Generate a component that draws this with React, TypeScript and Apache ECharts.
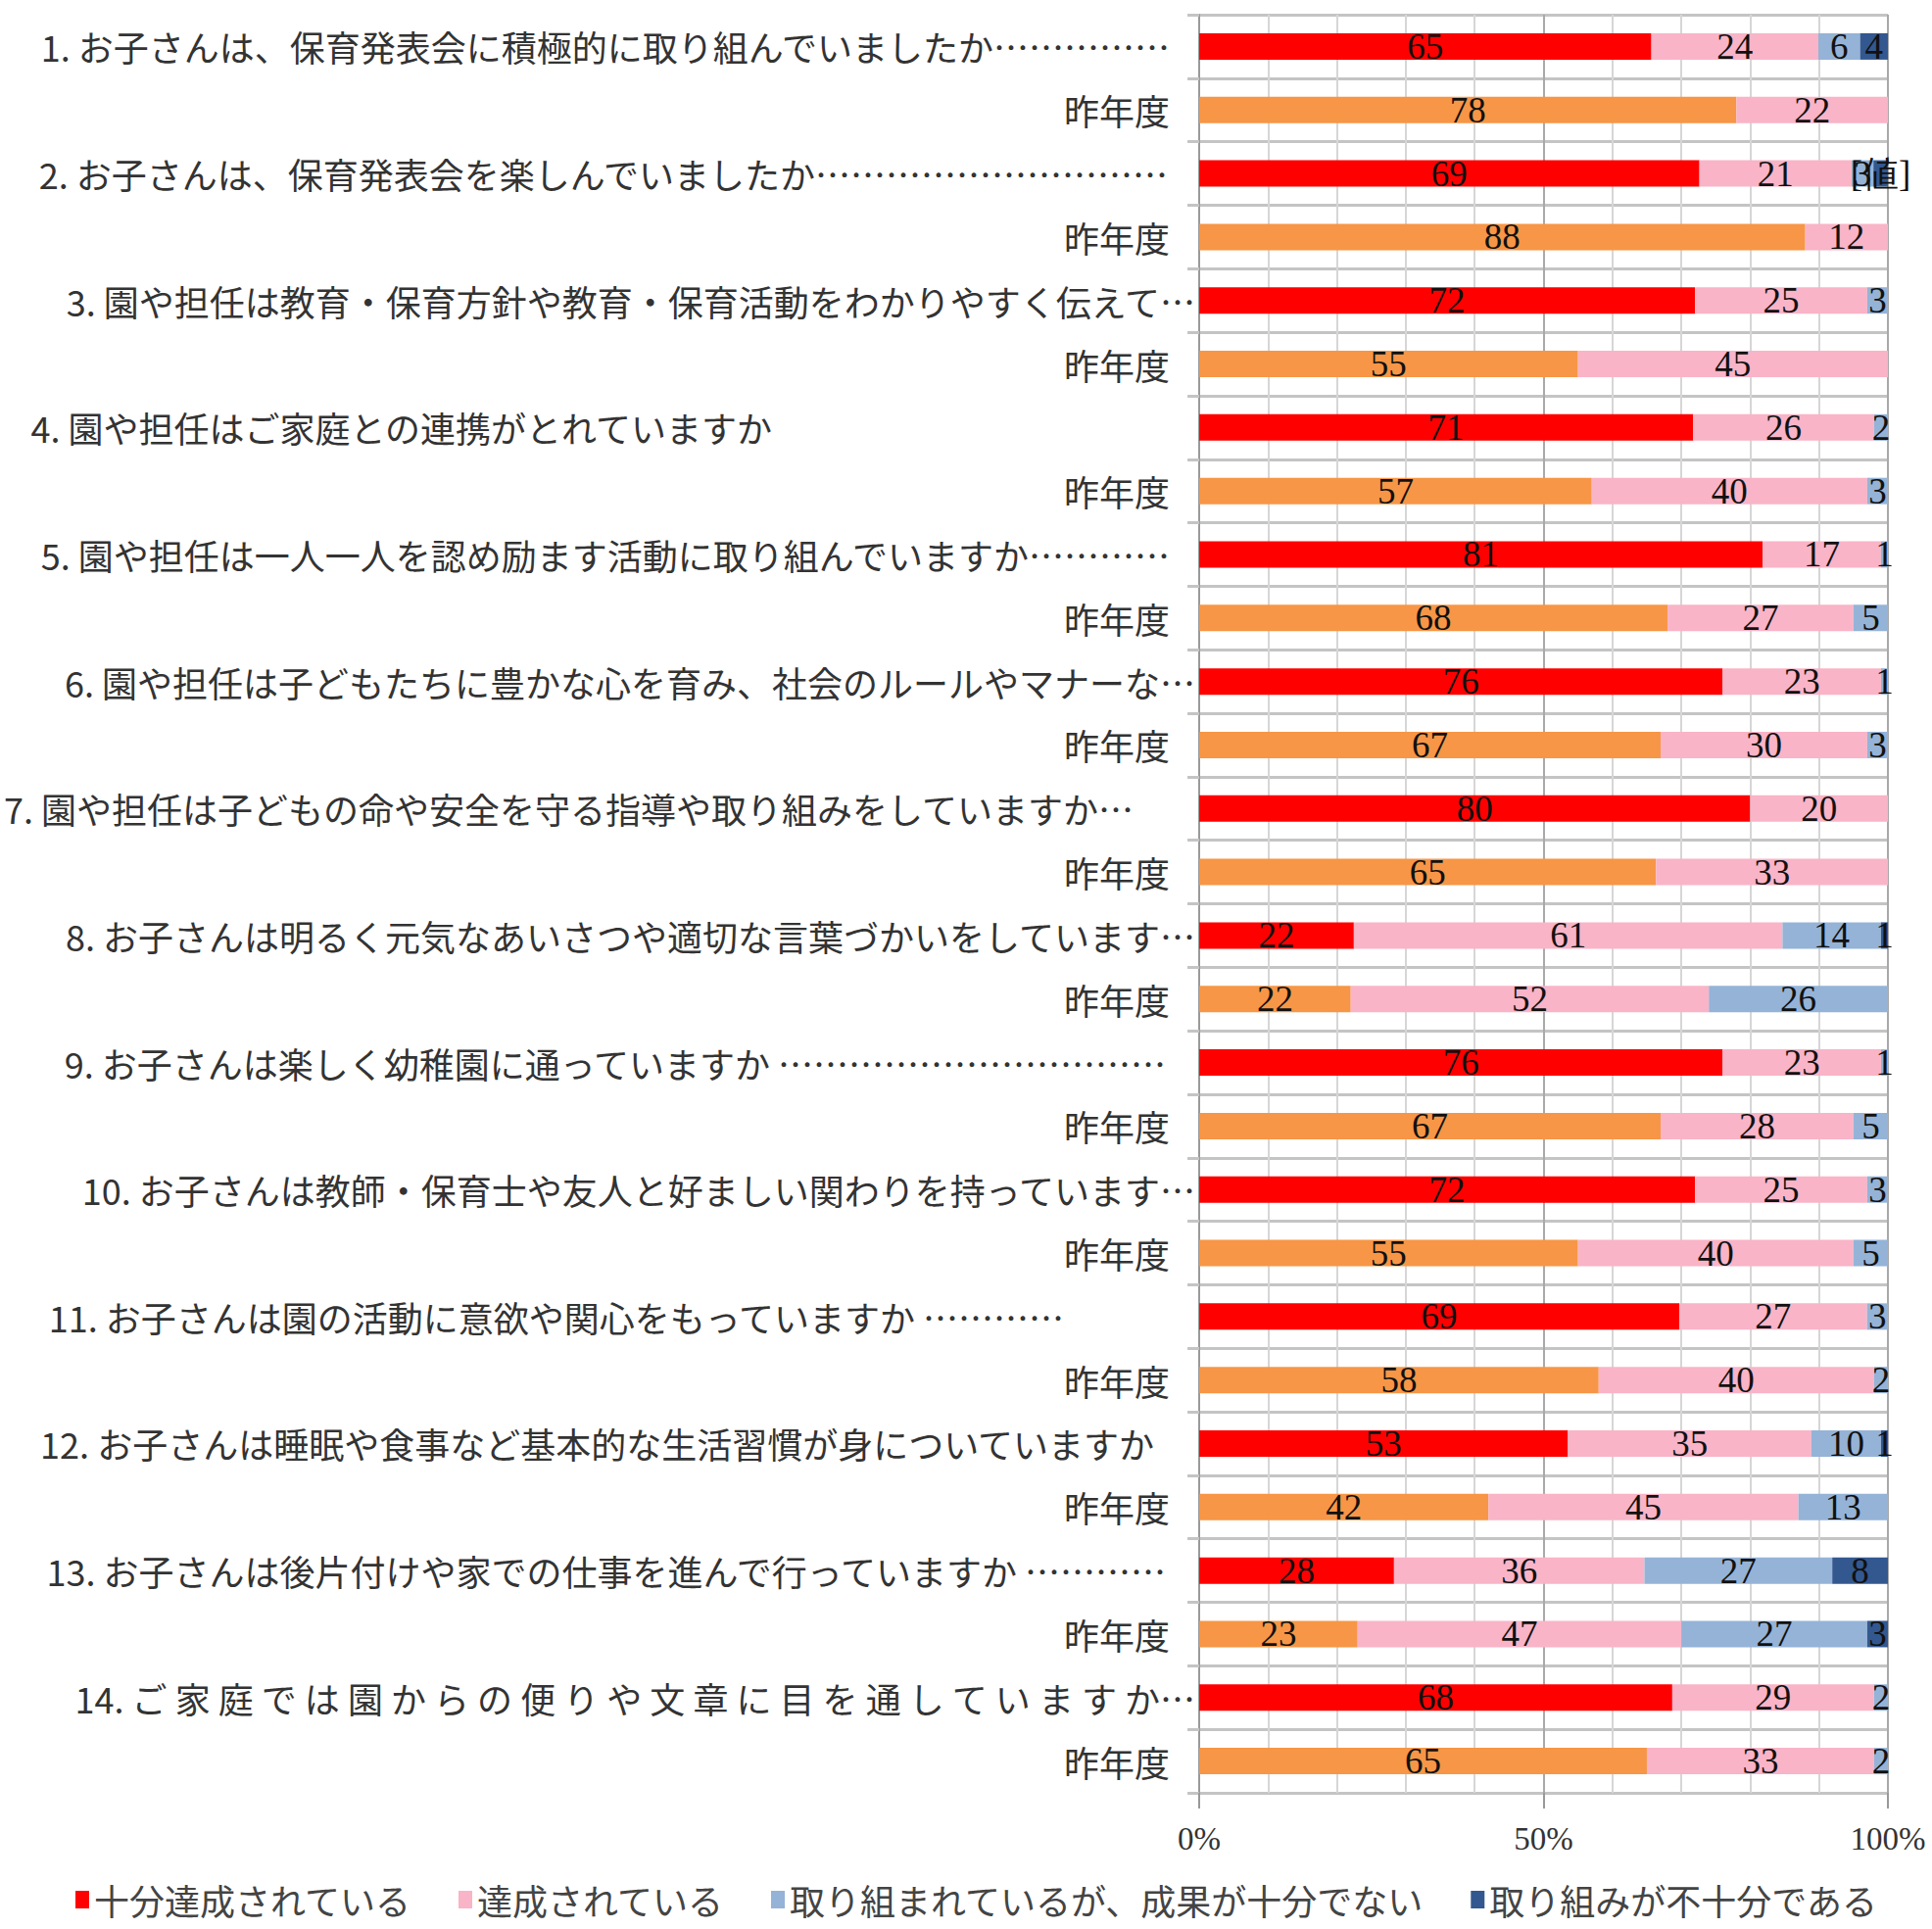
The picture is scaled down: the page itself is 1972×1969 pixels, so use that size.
import React, { useEffect, useRef } from "react";
import * as echarts from "echarts";

const rowLabels: string[] = [
  "1. お子さんは、保育発表会に積極的に取り組んでいましたか……………",
  "昨年度",
  "2. お子さんは、保育発表会を楽しんでいましたか…………………………",
  "昨年度",
  "3. 園や担任は教育・保育方針や教育・保育活動をわかりやすく伝えて…",
  "昨年度",
  "4. 園や担任はご家庭との連携がとれていますか",
  "昨年度",
  "5. 園や担任は一人一人を認め励ます活動に取り組んでいますか…………",
  "昨年度",
  "6. 園や担任は子どもたちに豊かな心を育み、社会のルールやマナーな…",
  "昨年度",
  "7. 園や担任は子どもの命や安全を守る指導や取り組みをしていますか…",
  "昨年度",
  "8. お子さんは明るく元気なあいさつや適切な言葉づかいをしています…",
  "昨年度",
  "9. お子さんは楽しく幼稚園に通っていますか ……………………………",
  "昨年度",
  "10. お子さんは教師・保育士や友人と好ましい関わりを持っています…",
  "昨年度",
  "11. お子さんは園の活動に意欲や関心をもっていますか …………",
  "昨年度",
  "12. お子さんは睡眠や食事など基本的な生活習慣が身についていますか",
  "昨年度",
  "13. お子さんは後片付けや家での仕事を進んで行っていますか …………",
  "昨年度",
  "14. ご 家 庭 で は 園 か ら の 便 り や 文 章 に 目 を 通 し て い ま す か…",
  "昨年度",
];

const seriesNames: string[] = [
  "十分達成されている",
  "達成されている",
  "取り組まれているが、成果が十分でない",
  "取り組みが不十分である",
];

const fullyAchieved: (number | null)[] = [
  65, 78, 69, 88, 72, 55, 71, 57, 81, 68, 76, 67, 80, 65, 22, 22, 76, 67, 72, 55, 69, 58, 53, 42, 28, 23, 68, 65,
];
const achieved: (number | null)[] = [
  24, 22, 21, 12, 25, 45, 26, 40, 17, 27, 23, 30, 20, 33, 61, 52, 23, 28, 25, 40, 27, 40, 35, 45, 36, 47, 29, 33,
];
const inProgress: (number | null)[] = [
  6, null, 3, null, 3, null, 2, 3, 1, 5, 1, 3, null, null, 14, 26, 1, 5, 3, 5, 3, 2, 10, 13, 27, 27, 2, 2,
];
const insufficient: (number | null)[] = [
  4, null, 2, null, null, null, null, null, null, null, null, null, null, null, 1, null, null, null, null, null,
  null, null, 1, null, 8, 3, null, null,
];

// label texts that differ from the number (series index - row index)
const labelOverrides: Record<string, string> = { "3-2": "[値]" };

const xTickValues = [0, 50, 100];

// right padding of each row label (styling)
const labelPads: number[] = [26, 26, 28, 26, 0, 26, 432, 26, 26, 26, 0, 26, 63, 26, 0, 26, 30, 26, 0, 26, 134, 26, 42, 26, 30, 26, 0, 26];

const RED = "#FF0000";
const ORANGE = "#F79646";
const PINK = "#F9B4C7";
const LIGHT_BLUE = "#95B3D7";
const DARK_BLUE = "#33588F";

export default function App() {
  const ref = useRef<HTMLDivElement>(null);

  useEffect(() => {
    if (!ref.current) return;
    const chart = echarts.init(ref.current, undefined, { renderer: "svg" });
    const raw = [fullyAchieved, achieved, inProgress, insufficient];
    const totals = rowLabels.map((_, i) => raw.reduce((s, arr) => s + (arr[i] ?? 0), 0));
    const colors = [RED, PINK, LIGHT_BLUE, DARK_BLUE];

    const rich: Record<string, any> = {};
    Array.from(new Set(labelPads)).forEach((p) => {
      rich["p" + p] = {
        fontSize: 36,
        fontFamily: "Noto Sans CJK JP",
        color: "#333",
        padding: [0, p, 0, 0],
      };
    });

    const series = raw.map((arr, si) => ({
      name: seriesNames[si],
      type: "bar",
      stack: "total",
      barWidth: 27,
      itemStyle: { color: colors[si] },
      label: {
        show: true,
        position: "inside",
        color: "#111",
        fontFamily: "Liberation Serif",
        fontSize: 37,
        formatter: (p: any) => {
          const key = si + "-" + p.dataIndex;
          if (labelOverrides[key]) return labelOverrides[key];
          return String(arr[p.dataIndex]);
        },
      },
      data: arr.map((v, i) => {
        if (v === null) return null;
        const item: any = { value: (v / totals[i]) * 100 };
        if (si === 0 && i % 2 === 1) item.itemStyle = { color: ORANGE };
        return item;
      }),
    }));

    chart.setOption({
      animation: false,
      backgroundColor: "#ffffff",
      grid: { left: 1222, right: 45, top: 15, bottom: 139, containLabel: false },
      legend: {
        data: seriesNames,
        left: 72,
        top: 1916,
        icon: "rect",
        itemWidth: 14,
        itemHeight: 18,
        itemGap: 48,
        textStyle: { fontFamily: "Noto Sans CJK JP", fontSize: 36, color: "#444" },
      },
      xAxis: {
        type: "value",
        min: 0,
        max: 100,
        interval: 50,
        axisLabel: {
          formatter: (v: number) => (xTickValues.includes(v) ? v + "%" : ""),
          fontFamily: "Liberation Serif",
          fontSize: 33,
          color: "#333",
          margin: 30,
        },
        axisLine: { show: false },
        axisTick: { show: true, length: 16, lineStyle: { color: "#999", width: 2 } },
        splitLine: { show: true, lineStyle: { color: "#a9a9a9", width: 2 } },
        minorTick: { show: false, splitNumber: 5 },
        minorSplitLine: { show: true, lineStyle: { color: "#d6d6d6", width: 2 } },
      },
      yAxis: {
        type: "category",
        inverse: true,
        data: rowLabels,
        axisLine: { show: true, lineStyle: { color: "#9a9a9a", width: 2 } },
        axisTick: { show: true, length: 12, lineStyle: { color: "#c4c4c4", width: 3 } },
        splitLine: { show: true, lineStyle: { color: "#c4c4c4", width: 3 } },
        axisLabel: {
          interval: 0,
          margin: 4,
          formatter: (value: string, index: number) => `{p${labelPads[index]}|${value}}`,
          rich,
        },
      },
      series,
    });
    return () => chart.dispose();
  }, []);

  return (
    <div
      ref={ref}
      style={{ position: "absolute", left: 0, top: 0, width: 1972, height: 1969, background: "#fff" }}
    />
  );
}
